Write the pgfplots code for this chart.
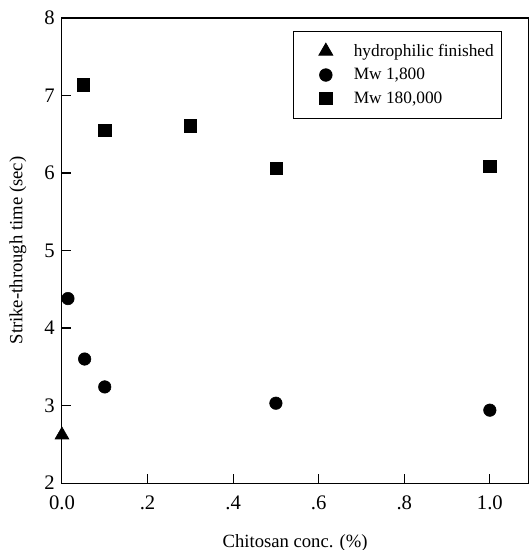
\documentclass[border=0pt]{standalone}
\usepackage{fontspec}
\setmainfont{Liberation Serif}
\usepackage{pgfplots}
\pgfplotsset{compat=1.18}
\usetikzlibrary{calc}

\begin{document}
\begin{tikzpicture}
\begin{axis}[
    scale only axis,
    width=350pt, height=349pt,
    xmin=0, xmax=1.09, ymin=2, ymax=8,
    xtick={0,0.2,0.4,0.6,0.8,1.0},
    xticklabels={0.0,.2,.4,.6,.8,1.0},
    ytick={2,3,4,5,6,7,8},
    xtick pos=bottom, ytick pos=left,
    tick align=inside,
    major tick length=7pt,
    axis line style={line width=0.8pt},
    tick style={line width=0.8pt, black},
    /pgf/number format/assume math mode=true,
    ticklabel style={font=\fontsize{15.5}{18}\selectfont},
    xticklabel style={yshift=-6pt},
    yticklabel style={xshift=-2pt},
    xlabel={Chitosan conc. (\%)},
    ylabel={Strike-through time (sec)},
    label style={font=\fontsize{14}{17}\selectfont},
    xlabel style={at={(axis description cs:0.5,0)}, anchor=center, yshift=-45pt},
    ylabel style={at={(axis description cs:0,0.5)}, anchor=center, yshift=33pt},
    clip=false,
    legend cell align=left,
    legend style={
        at={(0.944,0.972)}, anchor=north east,
        draw=black, line width=0.6pt,
        font=\fontsize{13}{15}\selectfont,
        inner xsep=5pt, inner ysep=7.5pt,
        nodes={inner xsep=1pt},
        row sep=3.5pt,
    },
    legend image code/.code={
        \path (0pt,0pt) (38.5pt,0pt);
        \draw[#1] plot coordinates {(18.8pt,0pt)};
    },
]
\addplot[only marks, mark=triangle*, mark size=6pt, black] coordinates {(0,2.62)};
\addplot[only marks, mark=*, mark size=4.7pt, black] coordinates {
(0.014,4.38) (0.053,3.60) (0.10,3.24) (0.50,3.03) (1.00,2.94)};
\addplot[only marks, mark=square*, mark size=4.6pt, black] coordinates {
(0.05,7.14) (0.10,6.55) (0.30,6.61) (0.50,6.06) (1.00,6.09)};
\legend{hydrophilic finished, {Mw 1,800}, {Mw 180,000}}
\end{axis}
\pgfresetboundingbox
\path[use as bounding box] ($(current axis.south west)+(-46.5pt,-50.25pt)$) rectangle ($(current axis.north east)+(0.6pt,13.5pt)$);
\end{tikzpicture}
\end{document}
